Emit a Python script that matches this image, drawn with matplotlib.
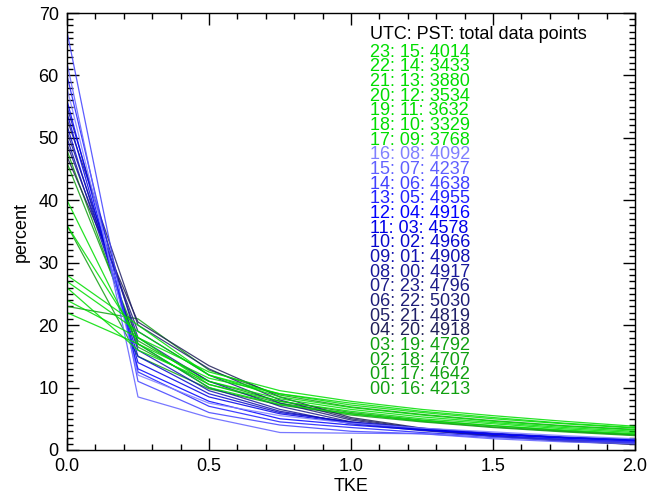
import numpy as np
import matplotlib
matplotlib.use("Agg")
import matplotlib.pyplot as plt
from matplotlib.ticker import MultipleLocator

plt.rcParams['font.family'] = ['Liberation Sans', 'DejaVu Sans']

# TKE bins
tke = [0.0, 0.25, 0.5, 0.75, 1.0, 1.25, 1.5, 1.75, 2.0]

# UTC hour, PST hour, number of points (legend order, top to bottom)
utc = ['23', '22', '21', '20', '19', '18', '17', '16', '15', '14', '13', '12',
       '11', '10', '09', '08', '07', '06', '05', '04', '03', '02', '01', '00']
pst = ['15', '14', '13', '12', '11', '10', '09', '08', '07', '06', '05', '04',
       '03', '02', '01', '00', '23', '22', '21', '20', '19', '18', '17', '16']
npts = [4014, 3433, 3880, 3534, 3632, 3329, 3768, 4092, 4237, 4638, 4955, 4916,
        4578, 4966, 4908, 4917, 4796, 5030, 4819, 4918, 4792, 4707, 4642, 4213]

# percent per TKE bin, one row per UTC hour (same order as above)
pct = [
    [27, 19.0, 12.0, 9.0, 7.5, 6.2, 5.2, 4.3, 3.6],   # 23
    [24, 18.0, 12.5, 9.5, 7.8, 6.5, 5.5, 4.6, 3.8],   # 22
    [22, 17.0, 11.5, 9.0, 7.2, 6.0, 5.0, 4.2, 3.5],   # 21
    [28, 20.0, 12.0, 8.5, 6.8, 5.6, 4.6, 3.8, 3.2],   # 20
    [26, 16.0, 11.0, 8.2, 6.5, 5.3, 4.4, 3.6, 3.0],   # 19
    [36, 18.0, 10.5, 7.8, 6.2, 5.0, 4.2, 3.4, 2.8],   # 18
    [40, 17.0, 10.0, 7.3, 5.8, 4.7, 3.9, 3.2, 2.6],   # 17
    [58, 12.0, 7.5, 5.5, 4.3, 3.5, 2.9, 2.3, 1.8],    # 16
    [62, 8.5, 5.2, 2.8, 2.7, 2.6, 1.8, 1.3, 1.0],     # 15
    [67, 11.0, 6.0, 4.0, 3.0, 2.6, 2.0, 1.5, 1.2],    # 14
    [60, 12.5, 7.0, 4.5, 3.6, 2.8, 2.2, 1.7, 1.3],    # 13
    [56, 13.0, 7.8, 5.0, 4.0, 3.2, 2.5, 1.9, 1.5],    # 12
    [54, 14.0, 8.5, 5.8, 4.3, 3.4, 2.6, 2.0, 1.6],    # 11
    [52, 15.0, 9.0, 6.0, 4.5, 3.5, 2.7, 2.1, 1.7],    # 10
    [50, 16.0, 9.5, 6.2, 4.4, 3.3, 2.5, 1.9, 1.4],    # 09
    [55, 17.0, 10.0, 6.5, 4.2, 3.1, 2.3, 1.7, 1.2],   # 08
    [51, 18.0, 11.0, 7.0, 4.5, 3.2, 2.2, 1.6, 1.1],   # 07
    [49, 19.0, 12.0, 7.5, 4.8, 3.3, 2.3, 1.5, 1.0],   # 06
    [53, 20.0, 13.0, 8.0, 5.0, 3.4, 2.2, 1.4, 0.9],   # 05
    [47, 20.5, 13.5, 8.5, 5.2, 3.5, 2.3, 1.5, 0.9],   # 04
    [48, 16.5, 10.5, 7.5, 5.8, 4.6, 3.7, 3.0, 2.4],   # 03
    [46, 17.5, 11.0, 7.8, 6.0, 4.8, 3.9, 3.1, 2.5],   # 02
    [36, 15.0, 9.8, 7.2, 5.6, 4.5, 3.6, 2.9, 2.3],    # 01
    [23, 21.0, 12.8, 8.8, 6.9, 5.7, 4.7, 3.9, 3.3],   # 00
]

colors = (['#00dd00'] * 7 +
          ['#8080ff', '#6060ff', '#4040ff', '#2020ff', '#0000ff', '#0000e8',
           '#0808cc', '#1010b0', '#18189a', '#1c1c88', '#1e1e78', '#202068',
           '#202058'] +
          ['#10a010'] * 4)

fig = plt.figure(figsize=(6.5, 4.99), dpi=100)
ax = fig.add_axes([67/650, 49/499, 568/650, 437/499])

# draw from the bottom of the legend up so the top entries sit on top
for i in range(len(utc) - 1, -1, -1):
    ax.plot(tke, pct[i], color=colors[i], lw=0.9, alpha=0.85)

ax.set_xlim(0, 2.0)
ax.set_ylim(0, 70)
ax.xaxis.set_major_locator(MultipleLocator(0.5))
ax.xaxis.set_minor_locator(MultipleLocator(0.1))
ax.yaxis.set_major_locator(MultipleLocator(10))
ax.yaxis.set_minor_locator(MultipleLocator(1))
ax.xaxis.set_major_formatter(matplotlib.ticker.FormatStrFormatter('%.1f'))
ax.tick_params(which='both', direction='in', top=True, right=True, labelsize=13)
ax.tick_params(which='major', length=8.6, width=1)
ax.tick_params(which='minor', length=4.3, width=1)
ax.tick_params(axis='x', pad=6)
ax.tick_params(axis='y', pad=6)
for s in ax.spines.values():
    s.set_linewidth(1)

ax.set_xlabel('TKE', fontsize=13, labelpad=2)
ax.set_ylabel('percent', fontsize=13, labelpad=6)

# legend text
ax.text(1.068, 66.6, 'UTC: PST: total data points', fontsize=13,
        color='black', va='center', ha='left')
for i in range(len(utc)):
    ax.text(1.068, 63.7 - i * 2.347, f"{utc[i]}: {pst[i]}: {npts[i]}",
            fontsize=13, color=colors[i], va='center', ha='left',
            linespacing=1.0)

plt.savefig('out.png', dpi=100)
